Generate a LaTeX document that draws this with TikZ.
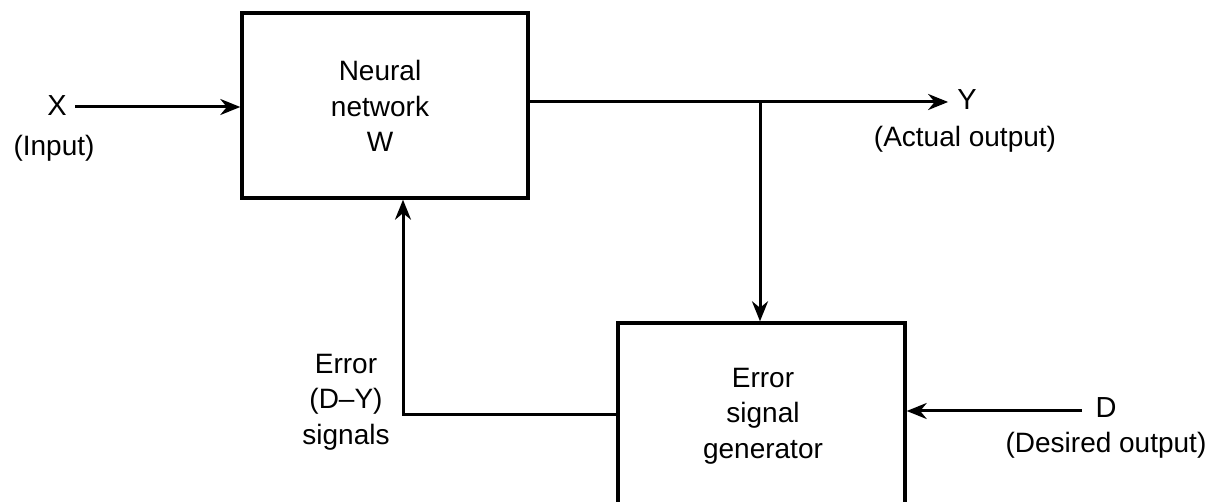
\documentclass[tikz,border=0pt]{standalone}
\usepackage{fontspec}
\setmainfont{Liberation Sans}
\usetikzlibrary{arrows.meta}
\begin{document}
\begin{tikzpicture}[x=1pt,y=-1pt,
  blk/.style={draw,line width=3.4pt,inner sep=0pt},
  lbl/.style={font=\fontsize{28}{35.5}\selectfont,align=center,inner sep=0pt},
  sym/.style={font=\fontsize{29}{30}\selectfont,inner sep=0pt},
  conn/.style={line width=3pt,-{Stealth[length=20pt,width=16pt]}},
  wire/.style={line width=3pt}]
\useasboundingbox (0,0) rectangle (1227,502);
\node[blk,minimum width=286pt,minimum height=185pt] (nn) at (385,105.5) {};
\node[lbl] (nnt) at (380,106) {Neural\\network\\W};
\node[blk,minimum width=287pt,minimum height=182pt] (eg) at (761.5,414) {};
\node[lbl] (egt) at (763,416) {Error\\signal\\generator};
\node[sym] (x) at (57,106) {X};
\node[lbl] (xin) at (54,148) {(Input)};
\node[sym] (y) at (967,100) {Y};
\node[lbl] (yin) at (965,139) {(Actual output)};
\node[sym] (d) at (1106,408) {D};
\node[lbl] (din) at (1106,445) {(Desired output)};
\node[lbl] (err) at (346,402) {Error\\(D--Y)\\signals};
\coordinate (br) at (760,102);
\coordinate (fb) at (403,415);
\coordinate (xs) at (75,107);
\coordinate (ds) at (1082,411);
\draw[conn] (xs) -- (nn.west |- xs);
\draw[wire] (nn.east |- br) -- (br);
\draw[conn] (br) -- ([xshift=-9pt]y.west |- br);
\draw[conn] (br) -- (eg.north -| br);
\draw[conn] (ds) -- (eg.east |- ds);
\draw[conn] (eg.west |- fb) -- (fb) -- (fb |- nn.south);
\end{tikzpicture}
\end{document}
